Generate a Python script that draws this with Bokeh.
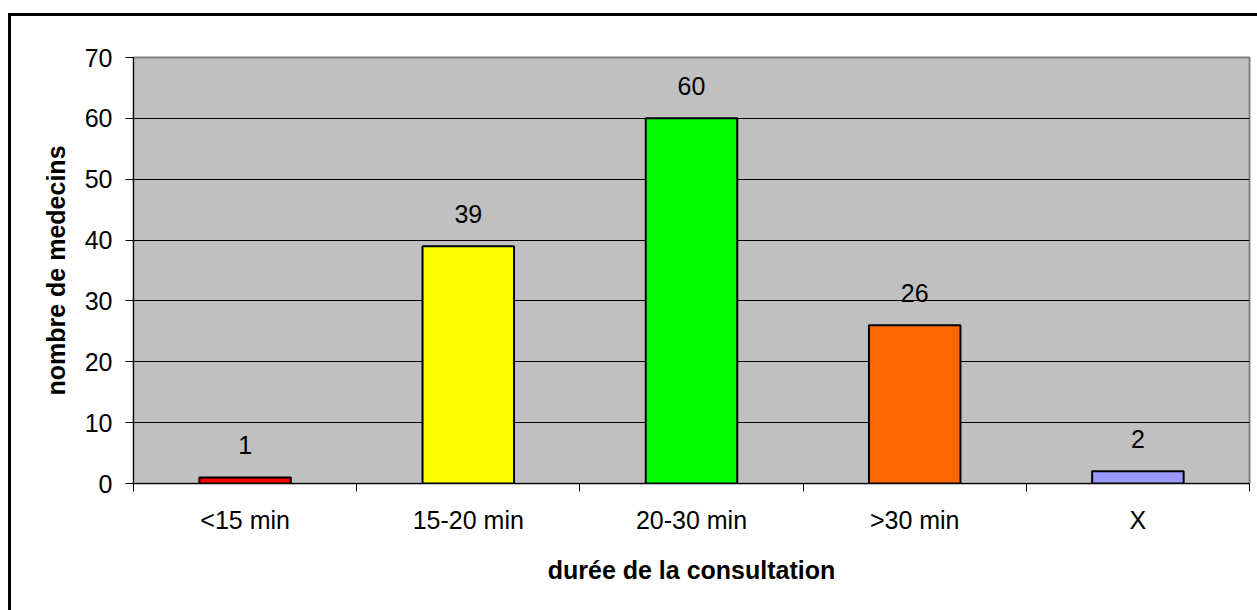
from bokeh.plotting import figure
from bokeh.models import ColumnDataSource, FixedTicker, Range1d
from bokeh.core.properties import value
from bokeh.embed import file_html
from bokeh.resources import INLINE

# Consultation length classes and number of doctors in each
categories = ["<15 min", "15-20 min", "20-30 min", ">30 min", "X"]
counts = [1, 39, 60, 26, 2]
bar_colors = ["#FF0000", "#FFFF00", "#00FF00", "#FF6600", "#9999FF"]
y_ticks = [0, 10, 20, 30, 40, 50, 60, 70]

FONT = "Liberation Sans"

positions = [i + 0.5 for i in range(len(categories))]
source = ColumnDataSource(dict(
    x=positions,
    count=counts,
    color=bar_colors,
    label=[str(c) for c in counts],
))

p = figure(
    width=1257, height=610,
    x_range=Range1d(0, len(categories)),
    y_range=Range1d(0, 70),
    output_backend="svg", toolbar_location=None,
    min_border_left=133, min_border_right=8,
    min_border_top=57, min_border_bottom=127,
)
p.background_fill_color = "#C0C0C0"
# transparent surround so the page-level frame lines below show through
p.border_fill_color = None
p.styles = {
    "background": (
        "linear-gradient(black, black) 8px 13px / 3px 100% no-repeat, "
        "linear-gradient(black, black) 8px 13px / 100% 3px no-repeat, "
        "white"
    ),
}
p.outline_line_color = "#808080"
p.outline_line_width = 2

p.vbar(x="x", top="count", bottom=0, width=0.41, source=source,
       fill_color="color", line_color="black", line_width=2)

p.text(x="x", y="count", text="label", source=source,
       text_align="center", text_baseline="alphabetic", y_offset=-32,
       text_font=value(FONT), text_font_size="25px", text_color="black")

# horizontal grid
p.xgrid.visible = False
p.ygrid.ticker = FixedTicker(ticks=y_ticks[1:-1])
p.ygrid.grid_line_color = "black"
p.ygrid.grid_line_width = 1

# y axis
yax = p.yaxis[0]
yax.ticker = FixedTicker(ticks=y_ticks)
yax.axis_line_color = "black"
yax.major_tick_in = 0
yax.major_tick_out = 8
yax.minor_tick_line_color = None
yax.major_label_standoff = 13
yax.major_label_text_font = FONT
yax.major_label_text_font_size = "25px"
yax.major_label_text_color = "black"
yax.axis_label = "nombre de medecins"
yax.axis_label_text_font = FONT
yax.axis_label_text_font_size = "25px"
yax.axis_label_text_font_style = "bold"
yax.axis_label_text_color = "black"
yax.axis_label_standoff = 12

# x axis: labels at category centres, ticks on category boundaries
xax = p.xaxis[0]
xax.ticker = FixedTicker(ticks=positions, minor_ticks=list(range(len(categories) + 1)))
xax.major_label_overrides = {pos: cat for pos, cat in zip(positions, categories)}
xax.axis_line_color = "black"
xax.major_tick_in = 0
xax.major_tick_out = 0
xax.minor_tick_in = 0
xax.minor_tick_out = 8
xax.minor_tick_line_color = "black"
xax.major_label_standoff = 14
xax.major_label_text_font = FONT
xax.major_label_text_font_size = "25px"
xax.major_label_text_color = "black"
xax.axis_label = "durée de la consultation"
xax.axis_label_text_font = FONT
xax.axis_label_text_font_size = "25px"
xax.axis_label_text_font_style = "bold"
xax.axis_label_text_color = "black"
xax.axis_label_standoff = 19

open("out.html", "w").write(file_html(p, INLINE))
